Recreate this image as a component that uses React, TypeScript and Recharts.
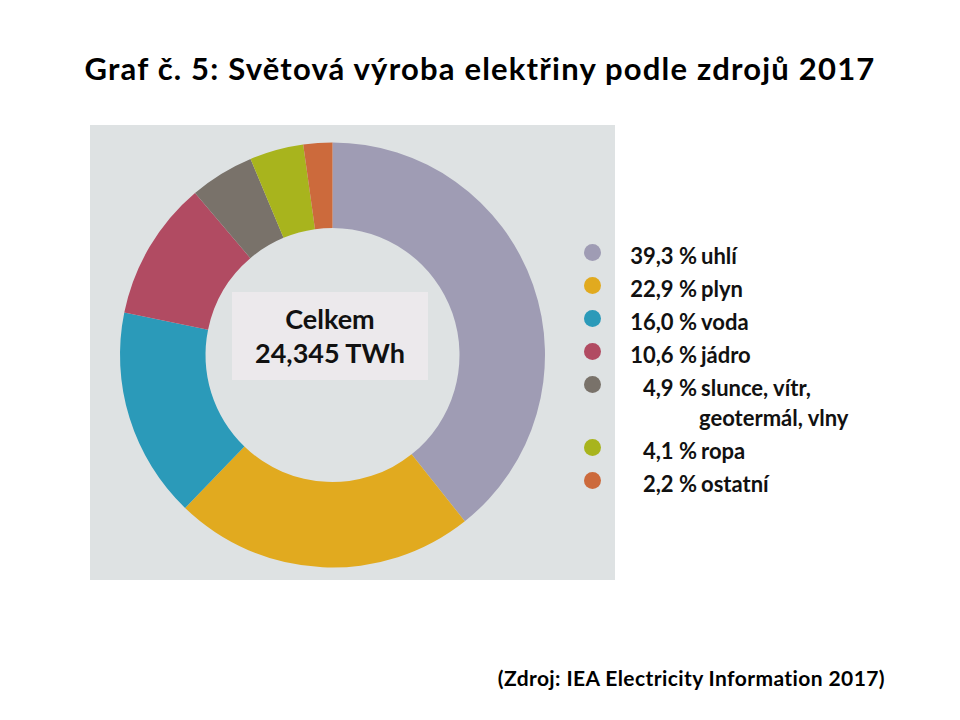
import React from 'react';
import { PieChart, Pie, Cell, Legend } from 'recharts';

const labels = ['uhlí', 'plyn', 'voda', 'jádro', 'slunce, vítr, geotermál, vlny', 'ropa', 'ostatní'];
const legendLines = [
    ['39,3 %', 'uhlí'],
    ['22,9 %', 'plyn'],
    ['16,0 %', 'voda'],
    ['10,6 %', 'jádro'],
    ['4,9 %', 'slunce, vítr,', 'geotermál, vlny'],
    ['4,1 %', 'ropa'],
    ['2,2 %', 'ostatní'],
];
const shares = [39.3, 22.9, 16.0, 10.6, 4.9, 4.1, 2.2];
const COLORS = ['#9f9cb4', '#e1aa1f', '#2b9ab9', '#b14b62', '#79726a', '#a8b41d', '#cc6a3c'];

const FONT = 'Lato, "Open Sans", sans-serif';

const data = labels.map((name, i) => ({ name, value: shares[i] }));

function LegendBox() {
    return (
        <div style={{ fontFamily: FONT, fontWeight: 700, fontSize: 22, color: '#111', lineHeight: '33px' }}>
            {legendLines.map((line, i) => (
                <div key={i} style={{ position: 'relative' }}>
                    <span style={{
                        position: 'absolute', left: 2, top: 5, width: 17, height: 17, borderRadius: 9,
                        background: COLORS[i]
                    }} />
                    <div style={{ display: 'flex' }}>
                        <span style={{ display: 'inline-block', width: 85, marginLeft: 30, textAlign: 'right' }}>{line[0]}</span>
                        <span style={{ marginLeft: 4 }}>{line[1]}</span>
                    </div>
                    {line[2] && (
                        <div style={{ marginLeft: 117, marginTop: -3 }}>{line[2]}</div>
                    )}
                </div>
            ))}
        </div>
    );
}

export default function App() {
    return (
        <div style={{ position: 'absolute', left: 0, top: 0, width: 960, height: 720, background: '#fff', overflow: 'hidden' }}>
            <div style={{
                position: 'absolute', left: 0, top: 49, width: 960, textAlign: 'center',
                fontFamily: FONT, fontWeight: 700, fontSize: 31, letterSpacing: 1.2, color: '#000'
            }}>
                Graf č. 5: Světová výroba elektřiny podle zdrojů 2017
            </div>
            <div style={{ position: 'absolute', left: 90, top: 125, width: 525, height: 455, background: '#dee2e3' }} />
            <div style={{ position: 'absolute', left: 0, top: 0 }}>
                <PieChart width={960} height={720}>
                    <Pie
                        data={data}
                        dataKey="value"
                        nameKey="name"
                        cx={327.5}
                        cy={350}
                        innerRadius={127}
                        outerRadius={212.5}
                        startAngle={90}
                        endAngle={-270}
                        stroke="none"
                        isAnimationActive={false}
                    >
                        {data.map((entry, index) => (
                            <Cell key={`cell-${index}`} fill={COLORS[index]} />
                        ))}
                    </Pie>
                    <Legend
                        layout="vertical"
                        content={() => <LegendBox />}
                        wrapperStyle={{ position: 'absolute', left: 582, top: 239, width: 330 }}
                    />
                </PieChart>
            </div>
            <div style={{
                position: 'absolute', left: 232, top: 292, width: 196, height: 88, background: '#ece9ec',
                display: 'flex', flexDirection: 'column', justifyContent: 'center', alignItems: 'center',
                fontFamily: FONT, fontWeight: 700, fontSize: 27, color: '#111', lineHeight: '34px'
            }}>
                <div>Celkem</div>
                <div>24,345 TWh</div>
            </div>
            <div style={{
                position: 'absolute', right: 75, top: 665, fontFamily: FONT, fontWeight: 700, fontSize: 21,
                letterSpacing: 0.4, color: '#000'
            }}>
                (Zdroj: IEA Electricity Information 2017)
            </div>
        </div>
    );
}
